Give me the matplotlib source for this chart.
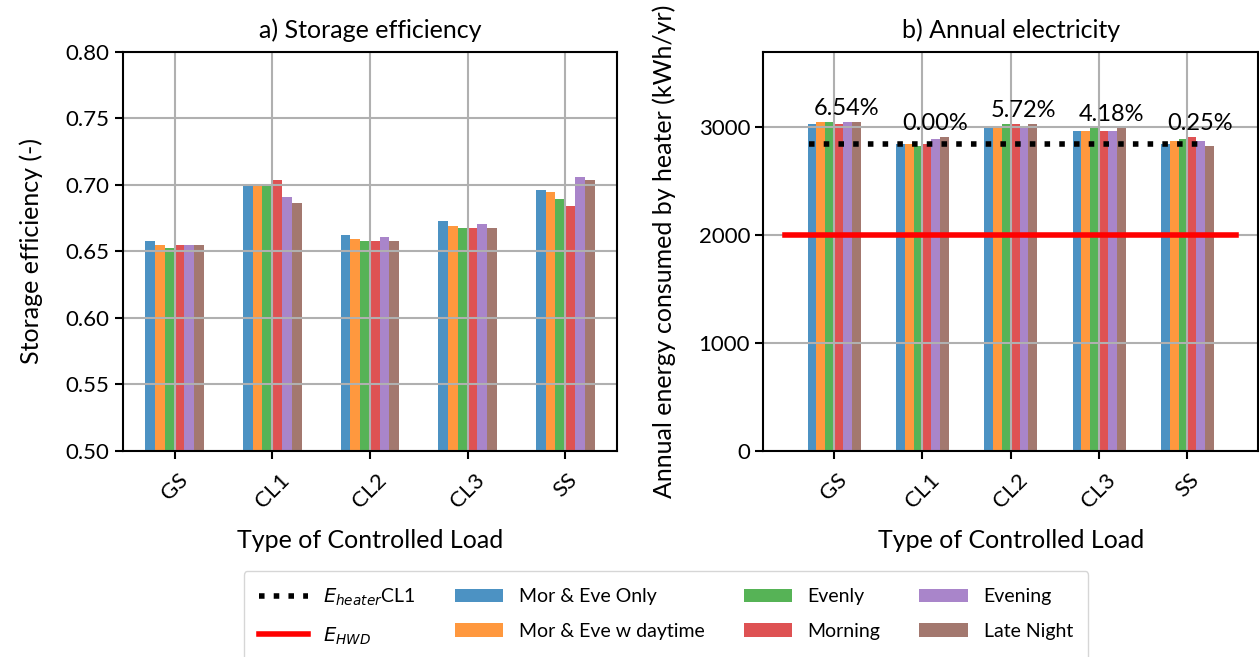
import numpy as np
import matplotlib.pyplot as plt
from matplotlib.lines import Line2D

plt.rcParams['font.family'] = ['Lato', 'DejaVu Sans']
plt.rcParams['mathtext.fontset'] = 'dejavusans'

loads = ['GS', 'CL1', 'CL2', 'CL3', 'SS']
profiles = ['Mor & Eve Only', 'Mor & Eve w daytime', 'Evenly', 'Morning', 'Evening', 'Late Night']
colors = ['tab:blue', 'tab:orange', 'tab:green', 'tab:red', 'tab:purple', 'tab:brown']

# storage efficiency (-), one list per profile, values per load
eff_mor_eve = [0.6576, 0.6992, 0.6624, 0.6725, 0.6957]
eff_mor_eve_day = [0.6543, 0.6992, 0.6591, 0.6692, 0.6942]
eff_evenly = [0.6525, 0.6992, 0.6576, 0.6674, 0.6891]
eff_morning = [0.6543, 0.7038, 0.6576, 0.6674, 0.6841]
eff_evening = [0.6543, 0.6909, 0.6609, 0.6707, 0.7056]
eff_late = [0.6543, 0.6859, 0.6576, 0.6674, 0.7038]

# annual energy consumed by heater (kWh/yr)
en_mor_eve = [3031, 2847, 2991, 2969, 2847]
en_mor_eve_day = [3049, 2847, 2991, 2969, 2869]
en_evenly = [3049, 2826, 3031, 2991, 2887]
en_morning = [3031, 2847, 3031, 2969, 2908]
en_evening = [3049, 2887, 2991, 2969, 2869]
en_late = [3049, 2908, 3031, 2991, 2826]

pct_labels = ['6.54%', '0.00%', '5.72%', '4.18%', '0.25%']
e_heater_cl1 = 2844
e_hwd = 2000

eff = [eff_mor_eve, eff_mor_eve_day, eff_evenly, eff_morning, eff_evening, eff_late]
energy = [en_mor_eve, en_mor_eve_day, en_evenly, en_morning, en_evening, en_late]

fig = plt.figure(figsize=(12.59, 6.57), dpi=100)
ax1 = fig.add_axes([0.0975, 0.314, 0.3926, 0.6073])
ax2 = fig.add_axes([0.6063, 0.314, 0.393, 0.6073])

x = np.arange(len(loads))
w = 0.1
fs = 16

for k, (vals, c) in enumerate(zip(eff, colors)):
    ax1.bar(x + (k - 2.5) * w, vals, w, color=c, alpha=0.8, label=profiles[k])
for k, (vals, c) in enumerate(zip(energy, colors)):
    ax2.bar(x + (k - 2.5) * w, vals, w, color=c, alpha=0.8)

ax2.plot([-0.28, 4.18], [e_heater_cl1, e_heater_cl1], ':', color='black', lw=4)
ax2.plot([-0.55, 4.55], [e_hwd, e_hwd], '-', color='red', lw=4)

group_max = np.max(np.array(energy), axis=0)
for i, lab in enumerate(pct_labels):
    ax2.text(x[i] + 0.14, group_max[i] + 30, lab, ha='center', va='bottom', fontsize=fs + 1)

ax1.set_ylim(0.5, 0.8)
ax1.set_xlim(-0.53, 4.53)
ax2.set_ylim(0, 3700)
ax2.set_xlim(-0.8, 4.8)
ax2.set_yticks([0, 1000, 2000, 3000])

for ax in (ax1, ax2):
    ax.set_xticks(x)
    ax.set_xticklabels(loads, rotation=45)
    ax.tick_params(labelsize=fs, length=6, width=1.5)
    ax.tick_params(axis='x', pad=8)
    ax.grid(True, color='#b0b0b0', lw=1.5)
    ax.set_xlabel('Type of Controlled Load', fontsize=fs + 2, labelpad=12)
    for s in ax.spines.values():
        s.set_linewidth(1.5)

ax1.set_title('a) Storage efficiency', fontsize=fs + 2, pad=10)
ax2.set_title('b) Annual electricity', fontsize=fs + 2, pad=10)
ax1.set_ylabel('Storage efficiency (-)', fontsize=fs + 2, labelpad=16)
ax2.set_ylabel('Annual energy consumed by heater (kWh/yr)', fontsize=fs + 2, labelpad=16)

handles = [Line2D([], [], ls=':', color='black', lw=4),
           Line2D([], [], ls='-', color='red', lw=4)]
labels = [r'$E_{heater}$CL1', r'$E_{HWD}$']
bh, bl = ax1.get_legend_handles_labels()
fig.legend(handles + bh, labels + bl, loc='upper center', ncol=4,
           bbox_to_anchor=(0.529, 0.131), borderaxespad=0, fontsize=14,
           frameon=True, handlelength=2.5, columnspacing=2.0,
           labelspacing=0.9, borderpad=0.8)

fig.savefig('out.png', dpi=100)
